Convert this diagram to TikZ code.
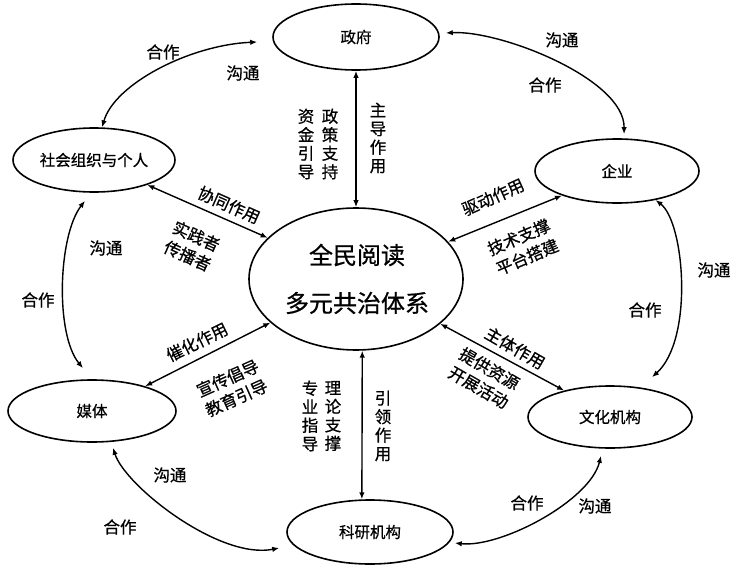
\documentclass[tikz,border=0pt]{standalone}
\usepackage{fontspec}
\setmainfont{Noto Sans CJK SC}[FakeBold=0.7]
\usetikzlibrary{shapes.geometric,arrows.meta}
\begin{document}
\begin{tikzpicture}[x=1pt,y=-1pt,
  ell/.style={draw,ellipse,line width=1.6pt,inner sep=0pt,font=\fontsize{15.5}{18}\selectfont},
  lbl/.style={font=\fontsize{16.5}{18}\selectfont,inner sep=0pt},
  vtxt/.style={font=\fontsize{16.5}{18.5}\selectfont,align=center,inner sep=0pt},
  blk/.style={font=\fontsize{16.5}{21.5}\selectfont,align=center,inner sep=0pt},
  lnk/.style={line width=1.4pt,{Latex[length=7pt,width=5.5pt]}-{Latex[length=7pt,width=5.5pt]}}]
\useasboundingbox (0,0) rectangle (738,567);
% nodes
\node[ell,minimum width=166pt,minimum height=66pt] (gov) at (356,37) {政府};
\node[ell,minimum width=164pt,minimum height=64pt] (ent) at (617,171) {企业};
\node[ell,minimum width=162pt,minimum height=64pt] (soc) at (94,160) {社会组织与个人};
\node[ell,minimum width=214pt,minimum height=142pt] (C) at (356,279) {};
\node[font=\fontsize{24}{28}\selectfont,inner sep=0pt] (c1) at (357,255) {全民阅读};
\node[font=\fontsize{24}{28}\selectfont,inner sep=0pt] (c2) at (357,303) {多元共治体系};
\node[ell,minimum width=168pt,minimum height=62pt] (med) at (92,411) {媒体};
\node[ell,minimum width=166pt,minimum height=64pt] (res) at (370,532) {科研机构};
\node[ell,minimum width=164pt,minimum height=62pt] (cul) at (610,417) {文化机构};
% central links
\draw[lnk] (gov.south) -- (C.north);
\draw[lnk] (C.-85) -- (res.104);
\draw[lnk] (soc.-25) -- (C.155.6);
\draw[lnk] (ent.-156.6) -- (C.22.5);
\draw[lnk] (med.25.7) -- (C.-153);
\draw[lnk] (cul.150) -- (C.-28);
% outer ring
\draw[lnk] (soc.76) .. controls +(12,-43) and +(-68,3) .. ([shift={(-15,5)}]gov.west);
\draw[lnk] ([shift={(6,-4)}]gov.east) .. controls +(55,-3) and +(1,-55) .. ([shift={(7,-4)}]ent.north);
\draw[lnk] (ent.-37) .. controls +(29,22) and +(42,-38) .. ([shift={(42,-8)}]cul.north);
\draw[lnk] ([shift={(-9,7)}]cul.south) .. controls +(-11,45) and +(46,5) .. ([shift={(1,11)}]res.east);
\draw[lnk] ([shift={(-7,16)}]res.west) .. controls +(-60,12) and +(12,38) .. ([shift={(21,5)}]med.south);
\draw[lnk] ([shift={(-9,-11)}]med.north) .. controls +(-28,-34) and +(-27,35) .. ([shift={(-9,8)}]soc.south);
% ring labels
\node[lbl] (l1) at (163,52) {合作};
\node[lbl] (l2) at (243,73) {沟通};
\node[lbl] (l3) at (562,40) {沟通};
\node[lbl] (l4) at (545,85) {合作};
\node[lbl] (l5) at (714,270) {沟通};
\node[lbl] (l6) at (645,310) {合作};
\node[lbl] (l7) at (527,503) {合作};
\node[lbl] (l8) at (595,506) {沟通};
\node[lbl] (l9) at (170,475) {沟通};
\node[lbl] (l10) at (120,527) {合作};
\node[lbl] (l11) at (106,248) {沟通};
\node[lbl] (l12) at (38,300) {合作};
% vertical labels
\node[vtxt] (v1) at (306,144) {资\\金\\引\\导};
\node[vtxt] (v2) at (330,144) {政\\策\\支\\持};
\node[vtxt] (v3) at (378,138) {主\\导\\作\\用};
\node[vtxt] (v4) at (310,416) {专\\业\\指\\导};
\node[vtxt] (v5) at (333,416) {理\\论\\支\\撑};
\node[vtxt] (v6) at (383,426) {引\\领\\作\\用};
% rotated labels
\node[lbl,rotate=-24] (r1) at (229,205) {协同作用};
\node[blk,rotate=-24] (r2) at (192,246) {实践者\\传播者};
\node[lbl,rotate=24] (r3) at (493,197) {驱动作用};
\node[blk,rotate=23] (r4) at (523,247) {技术支撑\\平台搭建};
\node[lbl,rotate=26] (r5) at (197,342) {催化作用};
\node[blk,rotate=24] (r6) at (232,388) {宣传倡导\\教育引导};
\node[lbl,rotate=-30] (r7) at (515,348) {主体作用};
\node[blk,rotate=-30] (r8) at (484,378) {提供资源\\开展活动};
\end{tikzpicture}
\end{document}
